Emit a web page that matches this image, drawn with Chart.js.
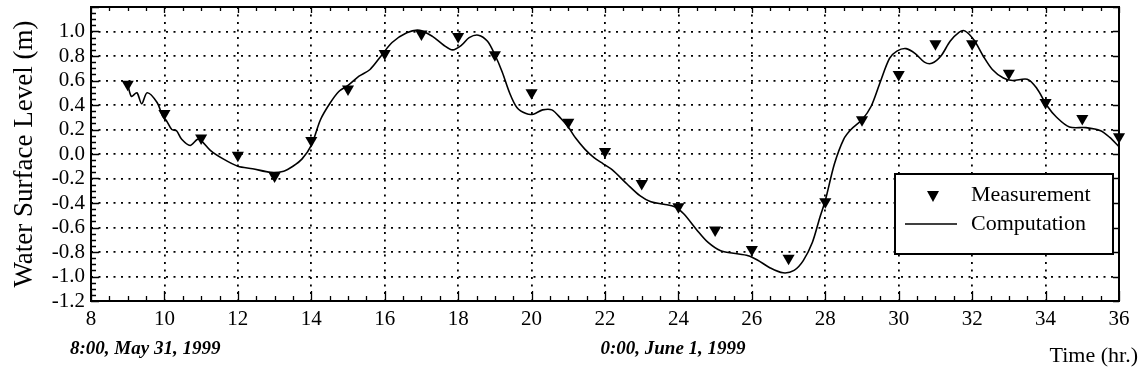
<!DOCTYPE html>
<html>
<head>
<meta charset="utf-8">
<script src="https://cdn.jsdelivr.net/npm/chart.js@4.4.1/dist/chart.umd.min.js"></script>
<style>
    html, body { margin: 0; padding: 0; background: #fff; }
</style>
</head>
<body>
<canvas id="myChartLevel" width="1142" height="381"></canvas>
<script>
// measured water level, every hour
var measHours = [9, 10, 11, 12, 13, 14, 15, 16, 17, 18, 19, 20, 21, 22, 23, 24, 25, 26, 27, 28, 29, 30, 31, 32, 33, 34, 35, 36];
var measLevels = [0.57, 0.33, 0.13, -0.01, -0.18, 0.11, 0.53, 0.82, 0.98, 0.96, 0.81, 0.50, 0.26, 0.02, -0.24, -0.43, -0.62, -0.78, -0.85, -0.39, 0.28, 0.65, 0.90, 0.90, 0.66, 0.42, 0.29, 0.14];

// computed water level
var compHours = [9.0, 9.1, 9.25, 9.38, 9.53, 9.8, 9.95, 10.06, 10.2, 10.33, 10.47, 10.7, 10.9, 11.0, 11.25, 11.6, 12.0, 12.4, 12.9, 13.25, 13.5, 13.75,
    14.0, 14.25, 14.5, 14.75, 15.0, 15.3, 15.6, 15.9, 16.2, 16.6, 16.95, 17.3, 17.6, 17.85, 18.1, 18.3, 18.55, 18.8, 19.0, 19.2, 19.4, 19.6, 19.85,
    20.05, 20.3, 20.55, 20.8, 21.0, 21.2, 21.45, 21.7, 21.95, 22.2, 22.6, 22.95, 23.25, 23.6, 23.9, 24.15, 24.5, 24.8, 25.15, 25.5, 25.9, 26.15,
    26.5, 26.85, 27.15, 27.4, 27.65, 27.85, 28.0, 28.25, 28.5, 28.7, 29.0, 29.25, 29.5, 29.75, 29.95, 30.2, 30.45, 30.7, 30.9, 31.15, 31.4, 31.65,
    31.8, 32.05, 32.3, 32.55, 32.85, 33.1, 33.5, 33.75, 34.05, 34.3, 34.65, 35.1, 35.5, 35.75, 36.0];
var compLevels = [0.57, 0.47, 0.50, 0.41, 0.50, 0.42, 0.31, 0.27, 0.20, 0.19, 0.12, 0.07, 0.12, 0.11, 0.03, -0.04, -0.10, -0.12, -0.15, -0.14, -0.10, -0.04,
    0.07, 0.28, 0.41, 0.51, 0.56, 0.635, 0.69, 0.80, 0.91, 0.99, 1.01, 0.96, 0.89, 0.85, 0.89, 0.95, 0.97, 0.92, 0.81, 0.67, 0.50, 0.38, 0.33,
    0.325, 0.36, 0.36, 0.29, 0.22, 0.13, 0.04, -0.03, -0.08, -0.13, -0.245, -0.34, -0.39, -0.41, -0.43, -0.49, -0.62, -0.72, -0.79, -0.81, -0.83, -0.865,
    -0.93, -0.97, -0.95, -0.87, -0.72, -0.52, -0.38, -0.08, 0.12, 0.20, 0.28, 0.39, 0.59, 0.78, 0.84, 0.86, 0.82, 0.75, 0.74, 0.80, 0.92, 0.995,
    1.005, 0.93, 0.80, 0.69, 0.62, 0.60, 0.61, 0.54, 0.39, 0.30, 0.22, 0.215, 0.19, 0.135, 0.06];

var seriesNames = ['Measurement', 'Computation'];
var dateLabels = ['8:00, May 31, 1999', '0:00, June 1, 1999'];
var xTitle = 'Time (hr.)';
var yTitle = 'Water Surface Level (m)';

var serif = "'Liberation Serif', 'Times New Roman', serif";

function toPoints(xs, ys) {
    var pts = [];
    for (var i = 0; i < xs.length; i++) {
        pts.push({ x: xs[i], y: ys[i] });
    }
    return pts;
}

// frame, inner tick marks, legend box and the extra labels
var framePlugin = {
    id: 'framePlugin',
    afterDraw: function (chart) {
        var ctx = chart.ctx;
        var a = chart.chartArea;
        var xs = chart.scales.x;
        var ys = chart.scales.y;
        ctx.save();
        ctx.strokeStyle = '#000';
        ctx.lineWidth = 2;
        ctx.strokeRect(a.left, a.top, a.right - a.left, a.bottom - a.top);

        ctx.lineWidth = 1.3;
        ctx.beginPath();
        for (var h = 8; h <= 36.001; h += 0.5) {
            var px = Math.round(xs.getPixelForValue(h)) + 0.5;
            var major = Math.abs(h / 2 - Math.round(h / 2)) < 1e-6;
            var len = major ? 10 : 5;
            ctx.moveTo(px, a.bottom); ctx.lineTo(px, a.bottom - len);
            ctx.moveTo(px, a.top); ctx.lineTo(px, a.top + (major ? 6 : 4));
        }
        for (var k = -24; k <= 24; k++) {
            var v = k * 0.05;
            var py = Math.round(ys.getPixelForValue(v)) + 0.5;
            var maj = k % 4 === 0;
            ctx.moveTo(a.left, py); ctx.lineTo(a.left + (maj ? 8 : 5), py);
            if (maj) { ctx.moveTo(a.right, py); ctx.lineTo(a.right - 6, py); }
        }
        ctx.stroke();

        // legend
        var bx = a.right - 224, by = a.top + 167, bw = 218, bh = 80;
        ctx.fillStyle = '#fff';
        ctx.fillRect(bx, by, bw, bh);
        ctx.lineWidth = 2;
        ctx.strokeRect(bx, by, bw, bh);
        ctx.fillStyle = '#000';
        ctx.beginPath();
        var tx = bx + 38, ty = by + 22;
        ctx.moveTo(tx - 6, ty - 5); ctx.lineTo(tx + 6, ty - 5); ctx.lineTo(tx, ty + 6);
        ctx.closePath();
        ctx.fill();
        ctx.lineWidth = 1.5;
        ctx.beginPath();
        ctx.moveTo(bx + 10, by + 50); ctx.lineTo(bx + 62, by + 50);
        ctx.stroke();
        ctx.font = '22px ' + serif;
        ctx.textBaseline = 'middle';
        ctx.textAlign = 'left';
        ctx.fillText(seriesNames[0], bx + 76, by + 21);
        ctx.fillText(seriesNames[1], bx + 76, by + 50);

        // date labels and x title
        ctx.font = 'italic bold 19px ' + serif;
        ctx.textBaseline = 'middle';
        ctx.fillText(dateLabels[0], xs.getPixelForValue(8) - 21, a.bottom + 48);
        ctx.fillText(dateLabels[1], xs.getPixelForValue(24) - 78, a.bottom + 48);
        ctx.font = '22px ' + serif;
        ctx.textAlign = 'right';
        ctx.fillText(xTitle, chart.width - 4, a.bottom + 55);
        ctx.restore();
    }
};

const ctx = document.getElementById('myChartLevel');
const myChart = new Chart(ctx, {
    type: 'scatter',
    data: {
        datasets: [{
            label: seriesNames[0],
            data: toPoints(measHours, measLevels),
            pointStyle: 'triangle',
            rotation: 180,
            pointRadius: 7,
            backgroundColor: '#000',
            borderColor: '#000',
            borderWidth: 0,
            showLine: false,
            clip: false
        }, {
            label: seriesNames[1],
            data: toPoints(compHours, compLevels),
            showLine: true,
            pointRadius: 0,
            borderColor: '#000',
            borderWidth: 1.6,
            tension: 0.3,
            fill: false
        }]
    },
    options: {
        responsive: false,
        animation: false,
        layout: { padding: { left: 0, top: 5, right: 23, bottom: 0 } },
        plugins: {
            legend: { display: false },
            tooltip: { enabled: false }
        },
        scales: {
            x: {
                type: 'linear',
                min: 8,
                max: 36,
                afterFit: function (scale) {
                    scale.height = 80;
                    scale.paddingLeft = 0;
                    scale.paddingRight = 0;
                },
                ticks: {
                    stepSize: 2,
                    padding: 6,
                    autoSkip: false,
                    maxRotation: 0,
                    color: '#000',
                    font: { family: serif, size: 21 }
                },
                grid: { color: '#000', lineWidth: 1.8, drawTicks: false },
                border: { display: false, dash: [2, 5.5] }
            },
            y: {
                min: -1.2,
                max: 1.2,
                afterFit: function (scale) {
                    scale.width = 91;
                    scale.paddingTop = 0;
                    scale.paddingBottom = 0;
                },
                ticks: {
                    stepSize: 0.2,
                    padding: 6,
                    autoSkip: false,
                    color: '#000',
                    font: { family: serif, size: 21 },
                    callback: function (value) {
                        if (value > 1.1) { return ''; }
                        if (Math.abs(value) < 1e-9) { return '0.0'; }
                        return value.toFixed(1);
                    }
                },
                title: {
                    display: true,
                    text: yTitle,
                    color: '#000',
                    font: { family: serif, size: 27 },
                    padding: { top: 9, bottom: 0 }
                },
                grid: { color: '#000', lineWidth: 1.8, drawTicks: false },
                border: { display: false, dash: [2, 5.5] }
            }
        }
    },
    plugins: [framePlugin]
});
</script>
</body>
</html>
